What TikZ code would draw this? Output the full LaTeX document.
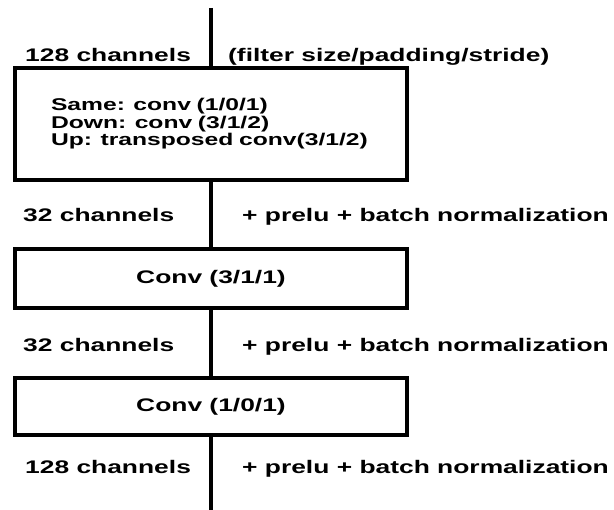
\documentclass[tikz,border=0pt]{standalone}
\usepackage{fontspec}
\newfontfamily\lbl{Liberation Sans}[FakeStretch=1.45]
\begin{document}
\begin{tikzpicture}[x=1pt,y=-1pt,
  lab/.style={font=\lbl\bfseries\fontsize{18.2}{20}\selectfont, inner sep=0pt, anchor=base west, text=black},
  blk/.style={draw=black, line width=3.5pt, rectangle, inner sep=0pt, minimum width=392pt,
    font=\lbl\bfseries\fontsize{18.2}{20}\selectfont},
  wire/.style={line width=4pt, draw=black}]
\useasboundingbox (0,0) rectangle (614,510);
\coordinate (top) at (211,8);
\coordinate (bot) at (211,512);
\node[blk, minimum height=112pt, text width=320pt, align=left, inner xsep=36pt,
  font=\lbl\bfseries\fontsize{17}{17.5}\selectfont] (b1) at (211,124)
  {Same: conv (1/0/1)\\Down: conv (3/1/2)\\Up: transposed conv(3/1/2)};
\node[blk, minimum height=59pt] (b2) at (211,278.5) {Conv (3/1/1)};
\node[blk, minimum height=57pt] (b3) at (211,406.5) {Conv (1/0/1)};
\draw[wire] (top) -- (b1);
\draw[wire] (b1) -- (b2);
\draw[wire] (b2) -- (b3);
\draw[wire] (b3) -- (bot);
\node[lab] (c0) at (25,61.5) {128 channels};
\node[lab] (f0) at (228,61.5) {(filter size/padding/stride)};
\node[lab] (c1) at (23,221.5) {32 channels};
\node[lab] (p1) at (242,221.5) {+ prelu + batch normalization};
\node[lab] (c2) at (23,351.5) {32 channels};
\node[lab] (p2) at (242,351.5) {+ prelu + batch normalization};
\node[lab] (c3) at (25,473.5) {128 channels};
\node[lab] (p3) at (242,473.5) {+ prelu + batch normalization};
\end{tikzpicture}
\end{document}
